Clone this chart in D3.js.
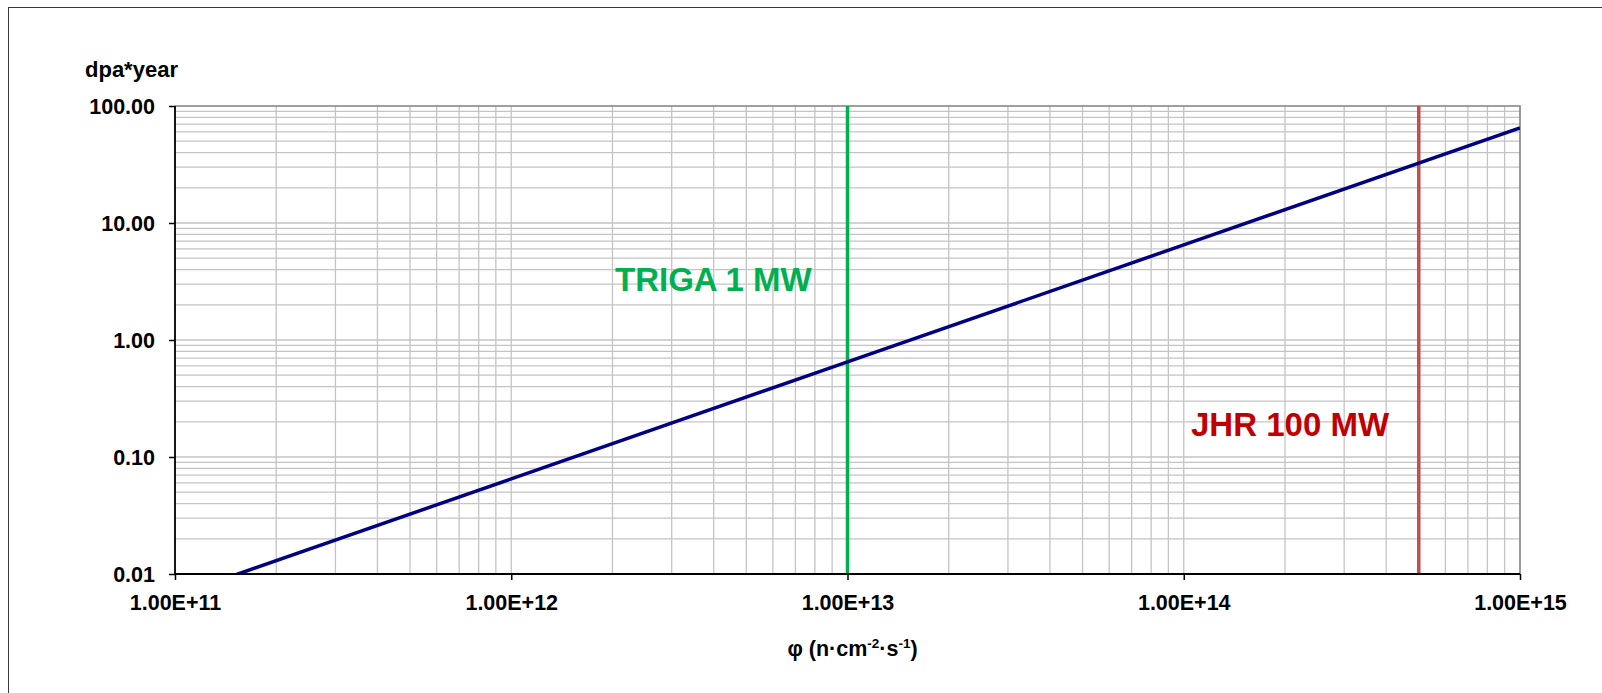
<!DOCTYPE html>
<html lang="en">

<head>
    <meta charset="UTF-8">
    <title>dpa*year vs neutron flux</title>
    <style>
        body {
            margin: 0;
            padding: 0;
            overflow: hidden;
            background: #fff;
        }

        text {
            font-family: "Liberation Sans", Arial, sans-serif;
            font-weight: bold;
        }
    </style>
</head>

<body>
    <script src="https://d3js.org/d3.v7.min.js"></script>
    <script>
        // Data
        const fluxValues = [1e11, 1e12, 1e13, 1e14, 1e15];
        const dpaValues = [0.0065, 0.065, 0.65, 6.5, 65];
        const xTickValues = [1e11, 1e12, 1e13, 1e14, 1e15];
        const xTickLabels = ["1.00E+11", "1.00E+12", "1.00E+13", "1.00E+14", "1.00E+15"];
        const yTickValues = [100, 10, 1, 0.1, 0.01];
        const yTickLabels = ["100.00", "10.00", "1.00", "0.10", "0.01"];
        const reactorNames = ["TRIGA 1 MW", "JHR 100 MW"];
        const reactorFlux = [1e13, 5e14];

        const width = 1602;
        const height = 693;
        const plot = { left: 175, right: 1520, top: 106, bottom: 574 };

        const svg = d3.select("body").append("svg")
            .attr("width", width)
            .attr("height", height);

        // Outer chart border (runs off the right and bottom edge)
        svg.append("rect")
            .attr("x", 8.5)
            .attr("y", 7.5)
            .attr("width", width + 20)
            .attr("height", height + 20)
            .attr("fill", "none")
            .attr("stroke", "#3a3a3a")
            .attr("stroke-width", 1);

        const x = d3.scaleLog()
            .domain([1e11, 1e15])
            .range([plot.left, plot.right]);

        const y = d3.scaleLog()
            .domain([0.01, 100])
            .range([plot.bottom, plot.top]);

        // Gridlines: every 1..9 step in each decade
        const gridX = [];
        const gridY = [];
        for (let e = 11; e < 15; e++) {
            for (let m = 1; m <= 9; m++) gridX.push(m * Math.pow(10, e));
        }
        for (let e = -2; e < 2; e++) {
            for (let m = 1; m <= 9; m++) gridY.push(m * Math.pow(10, e));
        }

        const grid = svg.append("g").attr("stroke", "#c4c4c4").attr("stroke-width", 1.3);

        grid.selectAll("line.gx")
            .data(gridX)
            .enter().append("line")
            .attr("x1", d => x(d))
            .attr("x2", d => x(d))
            .attr("y1", plot.top)
            .attr("y2", plot.bottom);

        grid.selectAll("line.gy")
            .data(gridY)
            .enter().append("line")
            .attr("x1", plot.left)
            .attr("x2", plot.right)
            .attr("y1", d => y(d))
            .attr("y2", d => y(d));

        // Top and right plot border in grey
        svg.append("path")
            .attr("d", `M${plot.left},${plot.top}H${plot.right}V${plot.bottom}`)
            .attr("fill", "none")
            .attr("stroke", "#808080")
            .attr("stroke-width", 1.6);

        // Clip for the data series
        svg.append("clipPath").attr("id", "plotClip")
            .append("rect")
            .attr("x", plot.left)
            .attr("y", plot.top)
            .attr("width", plot.right - plot.left)
            .attr("height", plot.bottom - plot.top);

        // Reactor marker lines
        const reactorColors = ["#00b050", "#c0504d"];
        const labelColors = ["#00b050", "#c00000"];
        svg.selectAll("line.reactor")
            .data(reactorFlux)
            .enter().append("line")
            .attr("x1", d => x(d))
            .attr("x2", d => x(d))
            .attr("y1", plot.top)
            .attr("y2", plot.bottom)
            .attr("stroke", (d, i) => reactorColors[i])
            .attr("stroke-width", 3.5);

        // dpa*year series
        const line = d3.line()
            .x((d, i) => x(fluxValues[i]))
            .y(d => y(d));

        svg.append("path")
            .datum(dpaValues)
            .attr("d", line)
            .attr("clip-path", "url(#plotClip)")
            .attr("fill", "none")
            .attr("stroke", "#000080")
            .attr("stroke-width", 3.5);

        // Axes
        const xAxis = svg.append("g")
            .attr("transform", `translate(0,${plot.bottom})`)
            .call(d3.axisBottom(x)
                .tickValues(xTickValues)
                .tickFormat((d, i) => xTickLabels[i])
                .tickSize(6)
                .tickPadding(10));

        const yAxis = svg.append("g")
            .attr("transform", `translate(${plot.left},0)`)
            .call(d3.axisLeft(y)
                .tickValues(yTickValues)
                .tickFormat((d, i) => yTickLabels[i])
                .tickSize(6)
                .tickPadding(14));

        [xAxis, yAxis].forEach(ax => {
            ax.select(".domain").attr("stroke", "#000").attr("stroke-width", 1.8);
            ax.selectAll(".tick line").attr("stroke", "#000").attr("stroke-width", 1.5);
            ax.selectAll(".tick text")
                .attr("fill", "#000")
                .style("font-family", "'Liberation Sans', Arial, sans-serif")
                .style("font-weight", "bold")
                .style("font-size", "21.5px");
        });
        xAxis.select(".domain").attr("d", `M${plot.left},0H${plot.right}`);
        yAxis.select(".domain").attr("d", `M0,${plot.bottom}V${plot.top}`);
        xAxis.selectAll(".tick text").attr("dy", "0.93em");
        yAxis.selectAll(".tick text").attr("dy", "0.36em");

        // Y axis title
        svg.append("text")
            .attr("x", 85)
            .attr("y", 77)
            .attr("font-size", "22px")
            .attr("fill", "#000")
            .text("dpa*year");

        // X axis title with superscripts
        const xTitle = svg.append("text")
            .attr("x", (plot.left + plot.right) / 2 + 5)
            .attr("y", 656)
            .attr("text-anchor", "middle")
            .attr("font-size", "21.5px")
            .attr("fill", "#000");
        xTitle.append("tspan").text("φ (n·cm");
        xTitle.append("tspan").attr("font-size", "13.5px").attr("dy", -8).text("-2");
        xTitle.append("tspan").attr("dy", 8).text("·s");
        xTitle.append("tspan").attr("font-size", "13.5px").attr("dy", -8).text("-1");
        xTitle.append("tspan").attr("dy", 8).text(")");

        // Reactor labels
        svg.append("text")
            .attr("x", 615)
            .attr("y", 291)
            .attr("font-size", "33px")
            .attr("fill", labelColors[0])
            .text(reactorNames[0]);

        svg.append("text")
            .attr("x", 1191)
            .attr("y", 436)
            .attr("font-size", "33px")
            .attr("fill", labelColors[1])
            .text(reactorNames[1]);
    </script>
</body>

</html>
